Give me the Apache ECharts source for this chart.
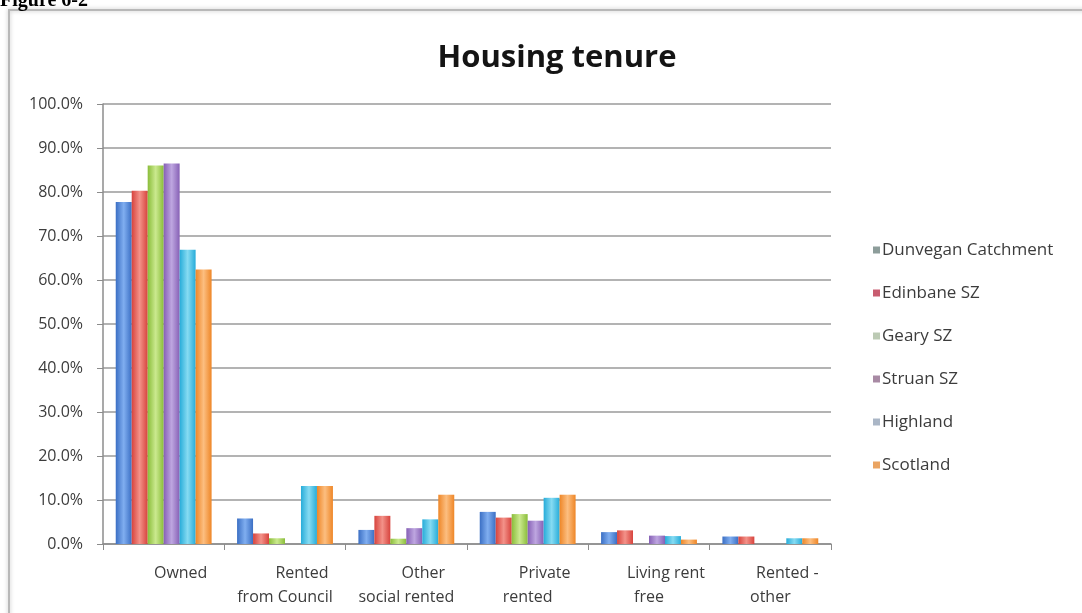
<!DOCTYPE html>
<html>
<head>
<meta charset="utf-8">
<title>Housing tenure</title>
<script src="https://cdn.jsdelivr.net/npm/echarts@6/dist/echarts.min.js"></script>
<style>
  html, body { margin: 0; padding: 0; background: #ffffff; }
  #chart { width: 1082px; height: 613px; }
</style>
</head>
<body>
<div id="chart"></div>
<script>
// Tenure categories (x axis) and share of households per area, in percent
const categories = ['Owned', 'Rented\nfrom Council', 'Other\nsocial rented', 'Private\nrented', 'Living rent\nfree', 'Rented -\nother'];
const seriesNames = ['Dunvegan Catchment', 'Edinbane SZ', 'Geary SZ', 'Struan SZ', 'Highland', 'Scotland'];
const dunvegan = [77.7, 5.8, 3.2, 7.3, 2.7, 1.7];
const edinbane = [80.3, 2.4, 6.4, 6.0, 3.1, 1.7];
const geary    = [86.0, 1.3, 1.2, 6.8, 0.0, 0.0];
const struan   = [86.5, 0.0, 3.6, 5.3, 1.9, 0.0];
const highland = [66.9, 13.2, 5.6, 10.5, 1.8, 1.3];
const scotland = [62.4, 13.2, 11.2, 11.2, 1.0, 1.3];
const yTicks = [0, 10, 20, 30, 40, 50, 60, 70, 80, 90, 100];

const seriesValues = [dunvegan, edinbane, geary, struan, highland, scotland];

// Bar fills: darker edges, lighter centre
const barShades = [
  ['#3b6fc4', '#80aef0'],
  ['#d7433d', '#f39289'],
  ['#8abd3a', '#cbe98f'],
  ['#8660b5', '#bea6e0'],
  ['#27acd9', '#86dbf2'],
  ['#ee8627', '#fcbe80']
];
// Legend swatches are drawn in muted tones
const legendSwatches = ['#8d9d9a', '#c85c70', '#bccab4', '#a88aa4', '#aab6c6', '#eaa462'];

function shade(pair) {
  return new echarts.graphic.LinearGradient(0, 0, 1, 0, [
    { offset: 0, color: pair[0] },
    { offset: 0.5, color: pair[1] },
    { offset: 1, color: pair[0] }
  ]);
}

const chart = echarts.init(document.getElementById('chart'), null, { renderer: 'canvas' });

const series = seriesNames.map((name, i) => ({
  name: name,
  type: 'bar',
  data: seriesValues[i],
  barGap: '0%',
  barCategoryGap: '21%',
  itemStyle: { color: shade(barShades[i]) },
  emphasis: { disabled: true }
}));

chart.setOption({
  animation: false,
  backgroundColor: '#ffffff',
  textStyle: { fontFamily: 'Open Sans' },
  graphic: [
    {
      type: 'rect',
      shape: { x: 9, y: 10, width: 1100, height: 620 },
      style: { fill: 'none', stroke: '#b8b8b8', lineWidth: 2, shadowBlur: 4, shadowColor: 'rgba(0,0,0,0.25)' },
      z: -10
    },
    {
      type: 'text',
      left: 0,
      top: -9,
      style: { text: 'Figure 6-2', font: 'bold 20px "Liberation Serif"', fill: '#000' }
    }
  ],
  title: {
    text: 'Housing tenure',
    left: 552,
    top: 38,
    textAlign: 'center',
    textStyle: { fontFamily: 'Open Sans', fontWeight: 'bold', fontSize: 31, color: '#141414' }
  },
  legend: {
    orient: 'vertical',
    left: 868,
    top: 235,
    itemWidth: 7,
    itemHeight: 7,
    itemGap: 23,
    icon: 'rect',
    selectedMode: false,
    data: seriesNames.map((n, i) => ({ name: n, itemStyle: { color: legendSwatches[i] } })),
    textStyle: { fontFamily: 'Open Sans', fontSize: 17, color: '#3c3c3c', lineHeight: 20, padding: [0, 0, 0, -3] }
  },
  grid: { left: 103, right: 251, top: 104, bottom: 69, containLabel: false },
  xAxis: {
    type: 'category',
    data: categories,
    axisLine: { lineStyle: { color: '#8c8c8c', width: 1.5 } },
    axisTick: { show: true, length: 6, lineStyle: { color: '#8c8c8c' } },
    axisLabel: {
      margin: 17,
      interval: 0,
      formatter: function (v) {
        const parts = v.split('\n');
        if (parts.length === 1) return '{a|' + parts[0] + '}';
        return '{a|' + parts[0] + '}\n{b|' + parts[1] + '}';
      },
      rich: {
        a: { fontFamily: 'Open Sans', fontSize: 16, color: '#3c3c3c', lineHeight: 24, padding: [0, 0, 0, 34] },
        b: { fontFamily: 'Open Sans', fontSize: 16, color: '#3c3c3c', lineHeight: 24 }
      }
    }
  },
  yAxis: {
    type: 'value',
    min: yTicks[0],
    max: yTicks[yTicks.length - 1],
    interval: 10,
    axisLine: { show: true, lineStyle: { color: '#8c8c8c', width: 1.5 } },
    axisTick: { show: true, inside: false, length: 6, lineStyle: { color: '#8c8c8c' } },
    splitLine: { lineStyle: { color: '#9a9a9a', width: 1.6 } },
    axisLabel: {
      margin: 20,
      fontFamily: 'Open Sans',
      fontSize: 16,
      color: '#3c3c3c',
      formatter: function (v) { return v.toFixed(1) + '%'; }
    }
  },
  series: series
});
</script>
</body>
</html>
